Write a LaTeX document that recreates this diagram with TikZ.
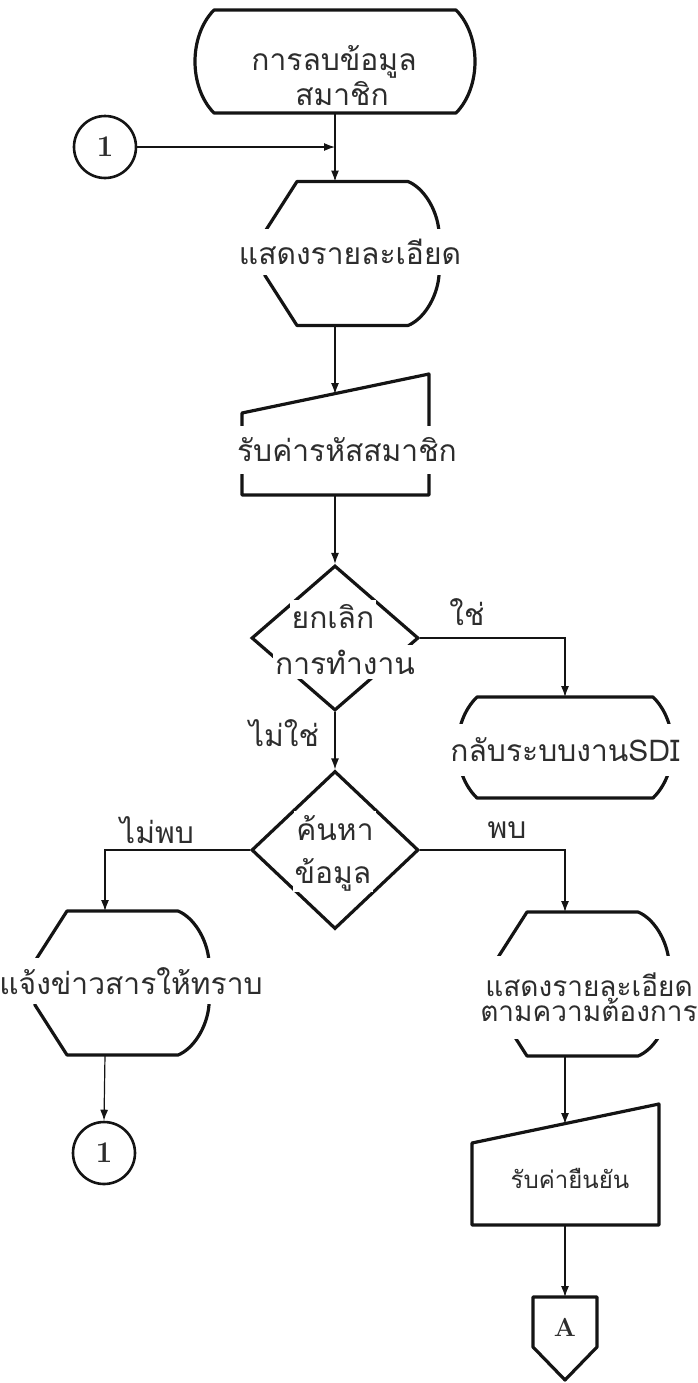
\documentclass[tikz,border=0pt]{standalone}
\usepackage{fontspec}
\usepackage{tikz}
\usetikzlibrary{arrows.meta,positioning,calc,shapes.geometric}
\newfontfamily\thaifont[Script=Thai]{Loma}
\definecolor{InkColor}{RGB}{20,20,20}
\definecolor{TextColor}{RGB}{45,45,45}

\tikzset{
  pics/stopbox/.style n args={3}{code={
    \draw[shapeline] (-#1,#3) -- (#1,#3)
      .. controls ({(4*#2-#1)/3},{0.5*#3}) and ({(4*#2-#1)/3},{-0.5*#3}) .. (#1,-#3)
      -- (-#1,-#3)
      .. controls ({-(4*#2-#1)/3},{-0.5*#3}) and ({-(4*#2-#1)/3},{0.5*#3}) .. (-#1,#3) -- cycle;
    \coordinate (-top) at (0,#3);
    \coordinate (-bot) at (0,-#3);
  }},
  pics/showbox/.style={code={
    \draw[shapeline] (-38,72) -- (73,72)
      .. controls (88,66) and (102,45) .. (104,22) -- (104,-22)
      .. controls (102,-45) and (88,-66) .. (73,-72)
      -- (-38,-72) -- (-70,-22) -- (-70,22) -- cycle;
    \coordinate (-top) at (0,72);
    \coordinate (-bot) at (0,-72);
  }},
  pics/inbox/.style={code={
    \draw[shapeline] (-93,0) -- (-93,82) -- (94,121) -- (94,0) -- cycle;
    \coordinate (-top) at (0,101);
    \coordinate (-bot) at (0,0);
  }},
  pics/pagebox/.style={code={
    \draw[shapeline] (-32,0) -- (32,0) -- (32,-50) -- (0,-83) -- (-32,-50) -- cycle;
    \coordinate (-top) at (0,0);
  }}
}

\begin{document}
\begin{tikzpicture}[x=0.5pt, y=0.5pt, font=\thaifont\fontsize{15}{18}\selectfont,
    shapeline/.style={InkColor, line width=1.6pt, line join=round},
    flow/.style={InkColor, line width=0.6pt, -{Latex[length=5.5pt,width=4pt]}},
    boxtext/.style={inner sep=1pt, text=TextColor},
    gaptext/.style={fill=white, inner xsep=1pt, inner ysep=0pt, text=TextColor},
    decision/.style={diamond, draw=InkColor, line width=1.6pt, inner sep=0pt, minimum width=83.5pt},
    joint/.style={circle, draw=InkColor, line width=1.3pt, minimum size=31pt, inner sep=0pt,
      text=TextColor, font=\normalfont\bfseries\fontsize{15}{18}\selectfont}]
  \useasboundingbox (0,0) rectangle (697,-1383);

  % shapes
  \pic (t1) at (335,-61.5) {stopbox={121}{140}{51.5}};
  \pic (d1) at (335,-253.5) {showbox};
  \pic (in1) at (335,-495) {inbox};
  \node[decision, minimum height=72.5pt] (dec1) at (335,-638) {};
  \pic (t2) at (565,-747.5) {stopbox={88}{107.5}{50.5}};
  \node[decision, minimum height=79pt] (dec2) at (335,-850) {};
  \pic (d2) at (105,-983) {showbox};
  \pic (d3) at (565,-984) {showbox};
  \pic (in2) at (565,-1225) {inbox};
  \pic (pg) at (565,-1297) {pagebox};
  \node[joint] (con1) at (105,-147) {1};
  \node[joint] (con2) at (104,-1153) {1};

  % connectors
  \draw[flow] (t1-bot) -- (d1-top);
  \draw[flow] (con1.east) -- (con1.east -| t1-bot);
  \draw[flow] (d1-bot) -- (in1-top);
  \draw[flow] (in1-bot) -- (dec1.north);
  \draw[flow] (dec1.east) -| (t2-top);
  \draw[flow] (dec1.south) -- (dec2.north);
  \draw[flow] (dec2.west) -| (d2-top);
  \draw[flow] (dec2.east) -| (d3-top);
  \draw[flow] (d2-bot) -- (con2.north);
  \draw[flow] (d3-bot) -- (in2-top);
  \draw[flow] (in2-bot) -- (pg-top);

  % texts
  \node[boxtext] (t1a) at (334,-62) {การลบข้อมูล};
  \node[boxtext] (t1b) at (342,-94) {สมาชิก};
  \node[gaptext, minimum height=23pt] (d1t) at (350,-252) {แสดงรายละเอียด};
  \node[gaptext, minimum height=24pt] (in1t) at (347,-450) {รับค่ารหัสสมาชิก};
  \node[gaptext, minimum height=17pt] (dec1a) at (333,-617) {ยกเลิก};
  \node[gaptext, minimum height=17pt] (dec1b) at (345,-662) {การทำงาน};
  \node[gaptext, minimum height=26pt, inner xsep=0pt] (t2t) at (565,-750) {กลับระบบงานSDI};
  \node[gaptext, minimum height=17pt] (dec2a) at (335,-828) {ค้นหา};
  \node[gaptext, minimum height=17pt] (dec2b) at (333,-875) {ข้อมูล};
  \node[gaptext, minimum height=23pt] (d2t) at (131,-981) {แจ้งข่าวสารให้ทราบ};
  \node[gaptext, minimum height=41.5pt, align=center,
    font=\thaifont\fontsize{14}{12.5}\selectfont] (d3t) at (589,-997) {แสดงรายละเอียด\\ตามความต้องการ};
  \node[boxtext, font=\thaifont\fontsize{12}{14}\selectfont] (in2t) at (570,-1178) {รับค่ายืนยัน};
  \node[boxtext, font=\normalfont\bfseries\fontsize{13}{15}\selectfont] (pgt) at (565,-1327) {A};

  % branch labels
  \node[boxtext] (yes) at (467,-612) {ใช่};
  \node[boxtext] (no) at (284,-733) {ไม่ใช่};
  \node[boxtext] (notfound) at (157,-830) {ไม่พบ};
  \node[boxtext] (found) at (507,-830) {พบ};
\end{tikzpicture}
\end{document}
